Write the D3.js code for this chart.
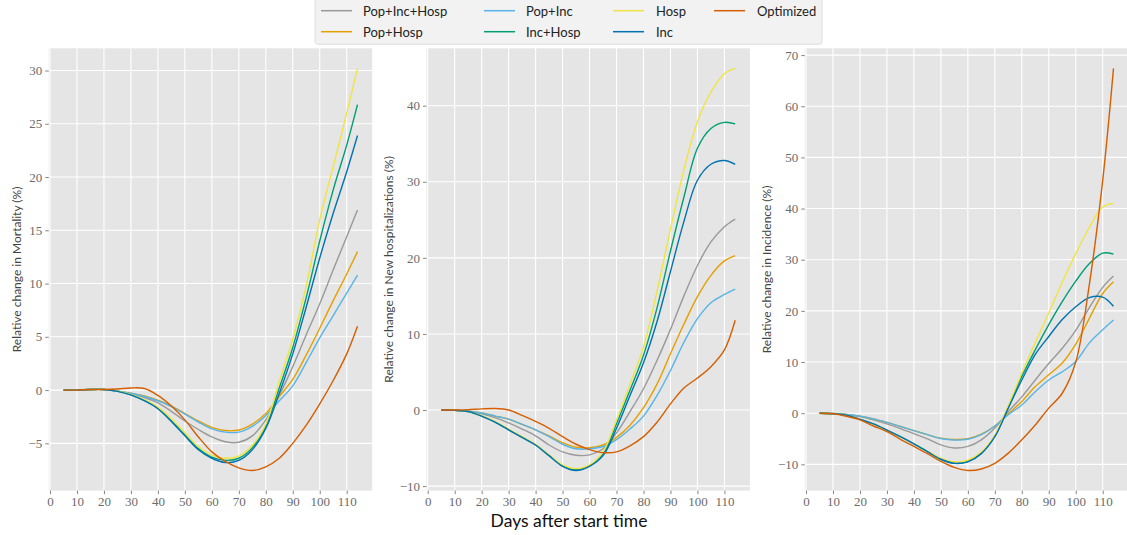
<!DOCTYPE html>
<html><head><meta charset="utf-8">
<script src="https://cdn.jsdelivr.net/npm/d3@7"></script>
<style>
body{margin:0;background:#fff;}
svg{display:block;}
</style></head>
<body>
<svg id="chart" width="1127" height="535"></svg>
<script>
// ---------- DATA ----------
const days = [5,10,15,20,25,30,35,40,45,50,55,60,65,70,75,80,85,90,95,100,105,110,114];
const seriesNames = ["Pop+Inc+Hosp","Pop+Hosp","Pop+Inc","Inc+Hosp","Hosp","Inc","Optimized"];
const seriesColors = ["#999999","#E69F00","#56B4E9","#009E73","#F0E442","#0072B2","#D55E00"];
const xTicks = [0,10,20,30,40,50,60,70,80,90,100,110];

// Mortality
const mortPopIncHosp = [0,0,0.05,0.05,-0.1,-0.35,-0.7,-1.2,-2.0,-2.9,-3.7,-4.4,-4.85,-4.9,-4.3,-2.8,-0.5,2.2,5.2,8.1,11.3,14.4,16.9];
const mortPopHosp    = [0,0,0.05,0.05,-0.1,-0.3,-0.55,-0.95,-1.5,-2.2,-2.9,-3.5,-3.8,-3.75,-3.2,-2.2,-0.6,1.0,3.3,5.8,8.4,10.9,13.0];
const mortPopInc     = [0,0,0.05,0.05,-0.1,-0.3,-0.6,-1.0,-1.55,-2.25,-3.0,-3.65,-3.95,-3.95,-3.4,-2.4,-1.0,0.4,2.6,4.9,7.0,9.1,10.8];
const mortIncHosp    = [0,0,0.05,0.05,-0.1,-0.45,-1.0,-1.7,-2.9,-4.2,-5.5,-6.3,-6.6,-6.4,-5.4,-3.4,0.2,4.0,8.7,14.0,18.8,23.0,26.8];
const mortHosp       = [0,0,0.05,0.05,-0.1,-0.4,-0.9,-1.6,-2.7,-4.0,-5.3,-6.1,-6.4,-6.2,-5.2,-3.2,0.8,4.8,9.8,16.0,21.0,26.0,30.2];
const mortInc        = [0,0,0.05,0.05,-0.12,-0.45,-1.0,-1.75,-2.95,-4.3,-5.6,-6.4,-6.8,-6.6,-5.6,-3.6,-0.3,3.4,7.8,12.4,16.6,20.5,23.9];
const mortOptimized  = [0,0,0.05,0.05,0.1,0.2,0.15,-0.5,-1.5,-2.8,-4.4,-5.8,-6.7,-7.3,-7.55,-7.2,-6.4,-5.0,-3.3,-1.3,0.9,3.4,6.0];
const mortTicks = [-5,0,5,10,15,20,25,30];

// New hospitalizations
const hospPopIncHosp = [0,-0.05,-0.2,-0.5,-1.0,-1.7,-2.5,-3.4,-4.6,-5.5,-5.95,-5.9,-5.1,-3.0,-0.2,2.8,6.5,10.6,15.0,19.0,22.1,24.1,25.1];
const hospPopHosp    = [0,-0.05,-0.15,-0.4,-0.8,-1.2,-1.9,-2.6,-3.4,-4.3,-4.9,-4.95,-4.6,-3.6,-2.0,0.3,3.4,7.4,11.3,14.9,17.7,19.6,20.3];
const hospPopInc     = [0,-0.05,-0.15,-0.4,-0.8,-1.2,-1.9,-2.6,-3.5,-4.5,-5.1,-5.1,-4.8,-3.9,-2.5,-0.8,1.9,5.2,8.9,12.0,14.1,15.2,15.9];
const hospIncHosp    = [0,-0.05,-0.2,-0.8,-1.6,-2.6,-3.6,-4.6,-6.0,-7.3,-7.85,-7.3,-5.8,-1.8,2.6,7.2,13.4,20.9,28.0,34.4,37.0,37.8,37.6];
const hospHosp       = [0,-0.05,-0.2,-0.75,-1.5,-2.5,-3.5,-4.5,-5.9,-7.2,-7.7,-7.2,-5.5,-1.3,3.4,8.3,15.6,23.8,31.6,37.9,41.8,44.2,44.9];
const hospInc        = [0,-0.05,-0.2,-0.8,-1.6,-2.6,-3.6,-4.6,-6.0,-7.4,-7.95,-7.4,-6.0,-2.4,1.9,6.2,11.6,18.2,24.8,30.2,32.3,32.8,32.3];
const hospOptimized  = [0,0,0.05,0.15,0.2,0.0,-0.7,-1.5,-2.4,-3.5,-4.5,-5.2,-5.6,-5.5,-4.7,-3.5,-1.6,0.8,2.9,4.2,5.7,7.9,11.8];
const hospTicks = [-10,0,10,20,30,40];

// Incidence
const incPopIncHosp = [0,-0.05,-0.3,-0.65,-1.3,-2.1,-3.0,-4.0,-5.0,-6.2,-6.8,-6.5,-5.2,-2.9,0.3,3.2,6.5,9.7,12.7,16.2,20.6,24.6,26.8];
const incPopHosp    = [0,-0.05,-0.25,-0.6,-1.1,-1.8,-2.6,-3.4,-4.2,-4.9,-5.15,-5.0,-4.1,-2.5,-0.1,2.3,5.2,7.5,9.8,13.5,18.5,23.4,25.7];
const incPopInc     = [0,-0.05,-0.25,-0.6,-1.1,-1.8,-2.6,-3.4,-4.2,-4.95,-5.25,-5.1,-4.2,-2.5,-0.3,1.6,4.2,6.5,8.1,10.1,13.7,16.3,18.2];
const incIncHosp    = [0,-0.1,-0.4,-1.2,-2.1,-3.3,-4.6,-6.0,-7.5,-9.0,-9.75,-9.4,-7.8,-4.5,1.2,7.2,12.4,17.3,21.8,25.8,29.2,31.3,31.1];
const incHosp       = [0,-0.1,-0.4,-1.2,-2.1,-3.3,-4.6,-6.0,-7.4,-8.8,-9.5,-9.2,-7.6,-4.3,1.5,7.8,13.8,19.6,25.6,31.2,36.3,40.3,41.0];
const incInc        = [0,-0.1,-0.4,-1.2,-2.1,-3.3,-4.6,-6.0,-7.5,-9.0,-9.8,-9.5,-7.9,-4.6,1.0,6.5,11.5,15.0,18.3,20.8,22.6,22.7,20.9];
const incOptimized  = [0,-0.1,-0.6,-1.3,-2.5,-3.6,-5.1,-6.5,-7.9,-9.4,-10.6,-11.2,-10.9,-9.8,-7.8,-5.2,-2.3,1.0,3.9,10.0,25.0,45.5,67.4];
const incTicks = [-10,0,10,20,30,40,50,60,70];

const panelSeries = [
  [mortPopIncHosp,mortPopHosp,mortPopInc,mortIncHosp,mortHosp,mortInc,mortOptimized],
  [hospPopIncHosp,hospPopHosp,hospPopInc,hospIncHosp,hospHosp,hospInc,hospOptimized],
  [incPopIncHosp,incPopHosp,incPopInc,incIncHosp,incHosp,incInc,incOptimized]
];
const panelTicks = [mortTicks,hospTicks,incTicks];
const panelLabels = ["Relative change in Mortality (%)","Relative change in New hospitalizations (%)","Relative change in Incidence (%)"];
const xLabel = "Days after start time";

// ---------- LAYOUT ----------
const svg = d3.select("#chart");
const plotTop = 48.3, plotBottom = 490.6;
const panelLeft = [48.8, 426.5, 804.8];
const panelW = 323.4;
const labelX = [16, 388, 766];
const fmt = v => v < 0 ? "\u2212" + Math.abs(v) : String(v);

const xSpan = d3.extent(days);
const xPad = (xSpan[1]-xSpan[0])*0.05;

panelSeries.forEach((series, p) => {
  const L = panelLeft[p];
  const x = d3.scaleLinear().domain([xSpan[0]-xPad, xSpan[1]+xPad]).range([L, L+panelW]);
  const all = series.flat();
  const ext = d3.extent(all);
  const yPad = (ext[1]-ext[0])*0.05;
  const y = d3.scaleLinear().domain([ext[0]-yPad, ext[1]+yPad]).range([plotBottom, plotTop]);

  const g = svg.append("g");
  g.append("rect").attr("x", L).attr("y", plotTop).attr("width", panelW).attr("height", plotBottom-plotTop).attr("fill", "#E5E5E5");

  g.selectAll(".vg").data(xTicks).enter().append("line")
    .attr("x1", d=>x(d)).attr("x2", d=>x(d)).attr("y1", plotTop).attr("y2", plotBottom)
    .attr("stroke", "#fff").attr("stroke-width", 1.1);
  g.selectAll(".hg").data(panelTicks[p]).enter().append("line")
    .attr("x1", L).attr("x2", L+panelW).attr("y1", d=>y(d)).attr("y2", d=>y(d))
    .attr("stroke", "#fff").attr("stroke-width", 1.1);

  const xa = g.append("g").attr("transform", `translate(0,${plotBottom})`)
    .call(d3.axisBottom(x).tickValues(xTicks).tickSize(3.5).tickPadding(3).tickFormat(fmt));
  const ya = g.append("g").attr("transform", `translate(${L},0)`)
    .call(d3.axisLeft(y).tickValues(panelTicks[p]).tickSize(3.5).tickPadding(3).tickFormat(fmt));
  [xa, ya].forEach(a => {
    a.select(".domain").remove();
    a.selectAll(".tick line").attr("stroke", "#666").attr("stroke-width", 0.8);
    a.selectAll(".tick text").attr("fill", "#6b6b6b")
      .style("font-family", "'Liberation Serif', 'Times New Roman', serif").style("font-size", "13px");
  });

  const line = d3.line().x((d,i)=>x(days[i])).y(d=>y(d)).curve(d3.curveCatmullRom.alpha(0.5));
  series.forEach((vals, s) => {
    g.append("path").attr("d", line(vals)).attr("fill", "none")
      .attr("stroke", seriesColors[s]).attr("stroke-width", 1.4);
  });

  svg.append("text").attr("transform", `translate(${labelX[p]},${(plotTop+plotBottom)/2}) rotate(-90)`)
    .attr("text-anchor", "middle").attr("dominant-baseline", "central")
    .attr("fill", "#444").style("font-family", "Lato, sans-serif").style("font-size", "12px")
    .text(panelLabels[p]);
});

svg.append("text").attr("x", 569).attr("y", 527).attr("text-anchor", "middle")
  .attr("fill", "#111").style("font-family", "Lato, sans-serif").style("font-size", "17.5px")
  .text(xLabel);

const lg = svg.append("g");
lg.append("rect").attr("x", 315).attr("y", -5).attr("width", 507).attr("height", 49.3).attr("rx", 3)
  .attr("fill", "#f2f2f2").attr("stroke", "#d8d8d8").attr("stroke-width", 0.8);
const colLine = [321, 484, 613, 714];
const colText = [363, 526, 656, 757];
const rowY = [10.7, 31.7];
seriesNames.forEach((name, i) => {
  const c = Math.floor(i/2), r = i%2;
  lg.append("line").attr("x1", colLine[c]).attr("x2", colLine[c]+31).attr("y1", rowY[r]).attr("y2", rowY[r])
    .attr("stroke", seriesColors[i]).attr("stroke-width", 1.5);
  lg.append("text").attr("x", colText[c]).attr("y", rowY[r]).attr("dominant-baseline", "central")
    .attr("fill", "#222").style("font-family", "Lato, sans-serif").style("font-size", "13px").text(name);
});
</script>
</body></html>
